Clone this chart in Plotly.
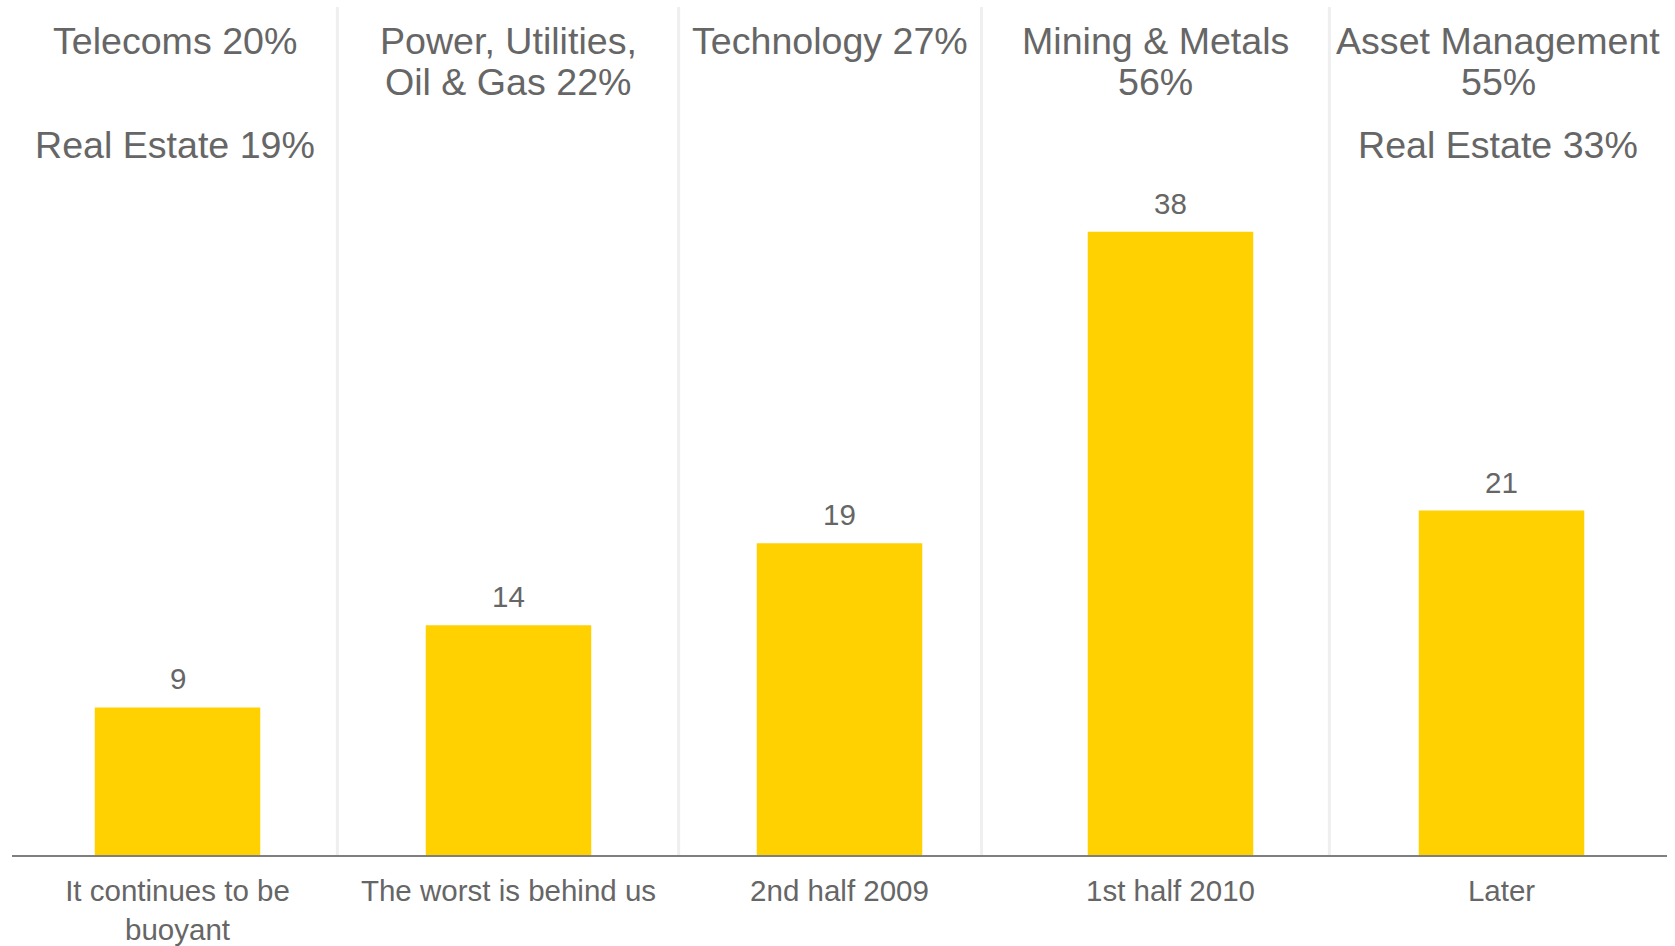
import plotly.graph_objects as go

# ---- data ----
categories = ["It continues to be<br>buoyant", "The worst is behind us",
              "2nd half 2009", "1st half 2010", "Later"]
values = [9, 14, 19, 38, 21]

# header texts per column (row 0, row 1, row 2)
header_lines = [
    ["Telecoms 20%", "", "Real Estate 19%"],
    ["Power, Utilities,", "Oil & Gas 22%", ""],
    ["Technology 27%", "", ""],
    ["Mining & Metals", "56%", ""],
    ["Asset Management", "55%", "Real Estate 33%"],
]

# column separators (in category units)
separators = [0.483, 1.514, 2.429, 3.480]

# ---- style ----
FONT = "Liberation Sans, Arial, sans-serif"
GRAY = "#666666"
YELLOW = "#FFD100"

W, H = 1675, 946
M_L, M_R, M_T, M_B = 12, 8, 7, 91
plot_h = H - M_T - M_B
row_pix = [40.5, 82.5, 145.5]  # vertical centres of header rows (px from top)

x_idx = list(range(len(categories)))

fig = go.Figure()
fig.add_trace(go.Bar(
    x=x_idx, y=values, marker=dict(color=YELLOW, line=dict(width=0)),
    hoverinfo="skip", showlegend=False,
))

# value labels
for xi, v in zip(x_idx, values):
    fig.add_annotation(x=xi, y=v, xref="x", yref="y", text=str(v),
                       showarrow=False, yanchor="bottom", yshift=10,
                       font=dict(family=FONT, size=29.5, color=GRAY))

# separators
for s in separators:
    fig.add_shape(type="line", xref="x", yref="paper", x0=s, x1=s, y0=0, y1=1,
                  line=dict(color="#EFEFEF", width=3), layer="below")

# header texts centred within columns
bounds = [-0.5] + separators + [len(categories) - 0.5]
for ci, lines in enumerate(header_lines):
    cx = (bounds[ci] + bounds[ci + 1]) / 2
    for ri, t in enumerate(lines):
        if not t:
            continue
        yp = (H - M_B - row_pix[ri]) / plot_h
        fig.add_annotation(x=cx, y=yp, xref="x", yref="paper", text=t,
                           showarrow=False, yanchor="middle", xanchor="center",
                           font=dict(family=FONT, size=37.6, color=GRAY))

fig.update_layout(
    width=W, height=H,
    margin=dict(l=M_L, r=M_R, t=M_T, b=M_B, pad=0, autoexpand=False),
    paper_bgcolor="white", plot_bgcolor="white",
    bargap=0.5,
    font=dict(family=FONT, color=GRAY),
    xaxis=dict(
        tickmode="array", tickvals=x_idx, ticktext=categories,
        range=[-0.5, len(categories) - 0.5],
        showgrid=False, zeroline=False, showline=True,
        linecolor="#7F7F7F", linewidth=2, ticks="",
        tickfont=dict(family=FONT, size=29.5, color=GRAY),
        ticklabelstandoff=9, automargin=False, fixedrange=True,
    ),
    yaxis=dict(range=[0, 51.7], visible=False, showgrid=False, zeroline=False,
               automargin=False, fixedrange=True),
)

fig.write_html("out.html", config={"displayModeBar": False})
